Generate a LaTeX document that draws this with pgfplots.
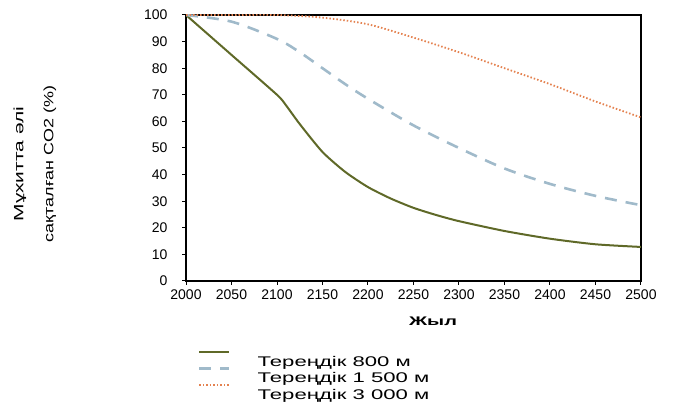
\documentclass[border=0pt]{standalone}
\usepackage{pgfplots}
\pgfplotsset{compat=1.18}
\usepackage{fontspec}
\setmainfont{Liberation Sans}
\newfontfamily\widefont[FakeStretch=1.58]{Liberation Sans}
\newfontfamily\labfont[FakeStretch=1.33]{Liberation Sans}
\newfontfamily\labfontA[FakeStretch=1.55]{Liberation Sans}
\newfontfamily\xlabfont[FakeStretch=1.6]{Liberation Sans}
\definecolor{c800}{RGB}{95,105,40}
\definecolor{c1500}{RGB}{160,186,202}
\definecolor{c3000}{RGB}{228,130,80}
\begin{document}
\begin{tikzpicture}
\useasboundingbox (0,0) rectangle (675pt,404pt);
\begin{axis}[
  at={(186pt,123pt)}, anchor=south west,
  scale only axis, width=455pt, height=266pt,
  xmin=2000, xmax=2500, ymin=0, ymax=100,
  xtick={2000,2050,...,2500}, ytick={0,10,...,100},
  axis line style={line width=2.6pt},
  tick style={line width=1pt, black},
  tick align=outside, major tick length=4pt,
  xtick pos=bottom, ytick pos=left,
  /pgf/number format/assume math mode=true,
  /pgf/number format/1000 sep={},
  ticklabel style={font=\fontsize{14}{16}\selectfont},
  yticklabel style={xshift=-11pt},
  xticklabel style={yshift=-1pt},
  xlabel={Жыл},
  xlabel style={font=\xlabfont\fontsize{12.5}{14}\selectfont\bfseries, at={(axis description cs:0.543,-0.152)}, anchor=center},
  ylabel={{\labfontA Мұхитта әлі}\\{\labfont сақталған CO2 (\%)}},
  ylabel style={font=\fontsize{13.5}{30}\selectfont, align=center, at={(axis description cs:-0.332,0.44)}, anchor=center},
  legend style={at={(axis description cs:0.026,-0.262)}, anchor=north west, draw=none, fill=none,
    font=\widefont\fontsize{14}{15}\selectfont, row sep=-2.5pt, inner sep=0pt,
    /tikz/every odd column/.append style={column sep=25pt}},
  legend cell align=left,
  legend image code/.code={\draw[#1] (0pt,10pt) -- (30pt,10pt);},
]
\addplot[c800, line width=2pt, smooth, tension=0.4] coordinates {
(2000,100)(2050,85)(2100,70)(2110,66)(2125,59)(2150,48.5)(2175,41)(2200,35.3)(2225,31)(2250,27.5)(2275,24.8)(2300,22.5)(2350,18.8)(2400,15.9)(2450,13.8)(2500,12.8)};
\addlegendentry{Тереңдік 800 м}
\addplot[c1500, line width=2.6pt, dash pattern=on 12pt off 9pt, smooth] coordinates {
(2000,100)(2050,97.5)(2100,91)(2125,86)(2150,80)(2175,74)(2200,68.5)(2250,58.5)(2300,50)(2350,42.3)(2400,36.5)(2450,32)(2500,28.5)};
\addlegendentry{Тереңдік 1 500 м}
\addplot[c3000, line width=1.8pt, dash pattern=on 1.5pt off 2pt, smooth] coordinates {
(2000,100)(2050,100)(2100,100)(2150,99)(2200,96.5)(2250,91.5)(2300,86)(2350,80)(2400,74)(2450,67.5)(2500,61.5)};
\addlegendentry{Тереңдік 3 000 м}
\end{axis}
\end{tikzpicture}
\end{document}
